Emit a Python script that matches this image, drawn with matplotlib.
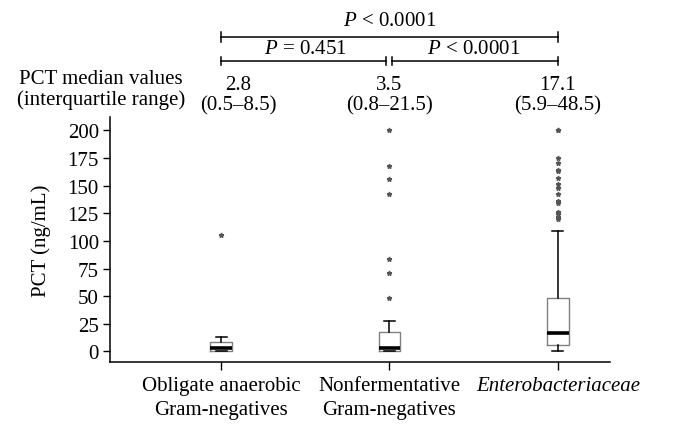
import matplotlib
matplotlib.use("Agg")
import matplotlib.pyplot as plt
from matplotlib.transforms import blended_transform_factory

# ---------------- data ----------------
categories = ["Obligate anaerobic\nGram-negatives", "Nonfermentative\nGram-negatives", "Enterobacteriaceae"]
medians = [2.8, 3.5, 17.1]
q1 = [0.5, 0.8, 5.9]
q3 = [8.5, 18.0, 48.5]
whis_lo = [0.0, 0.0, 0.0]
whis_hi = [13.0, 28.0, 109.0]
fliers = [
    [105],
    [200, 168, 156, 142, 84, 71, 48],
    [200, 200, 175, 170, 164, 163, 157, 151, 148, 142, 136, 134, 126, 124, 122, 120],
]
median_labels = ["2.8", "3.5", "17.1"]
iqr_labels = ["(0.5\u20138.5)", "(0.8\u201321.5)", "(5.9\u201348.5)"]
yticks = [0, 25, 50, 75, 100, 125, 150, 175, 200]
p_overall = "$P$ < 0.0001"
p_12 = "$P$ = 0.451"
p_23 = "$P$ < 0.0001"

# ---------------- style ----------------
plt.rcParams["font.family"] = ["Liberation Serif", "DejaVu Serif"]
plt.rcParams["mathtext.fontset"] = "custom"
plt.rcParams["mathtext.rm"] = "Liberation Serif"
plt.rcParams["mathtext.it"] = "Liberation Serif:italic"
FS = 15

W, H = 684, 439
fig = plt.figure(figsize=(W / 100, H / 100), dpi=100)
ax = fig.add_axes([110 / W, (H - 363) / H, 500 / W, 245 / H])

stats = []
for i in range(3):
    stats.append(dict(med=medians[i], q1=q1[i], q3=q3[i], whislo=whis_lo[i],
                      whishi=whis_hi[i], fliers=fliers[i]))
pos = [1, 2, 3]
ax.bxp(stats, positions=pos, widths=0.13, capwidths=0.065, showfliers=True,
       boxprops=dict(color="#808080", linewidth=1.0),
       medianprops=dict(color="black", linewidth=2.6),
       whiskerprops=dict(color="black", linewidth=1.1),
       capprops=dict(color="black", linewidth=1.1),
       flierprops=dict(marker="*", markersize=3.5, markerfacecolor="#555555",
                       markeredgecolor="#555555", linestyle="none"))

ax.set_xlim(0.34, 3.31)
ax.set_ylim(-9.5, 212)
ax.set_yticks(yticks)
ax.set_yticklabels([str(v) for v in yticks], fontsize=FS)
ax.set_xticks(pos)
ax.set_xticklabels(categories, fontsize=FS, linespacing=1.35)
ax.get_xticklabels()[2].set_style("italic")
for s in ["top", "right"]:
    ax.spines[s].set_visible(False)
for s in ["left", "bottom"]:
    ax.spines[s].set_linewidth(1.1)
ax.tick_params(axis="y", direction="out", length=5, width=1.0, pad=3)
ax.tick_params(axis="x", direction="out", length=6, width=1.0, pad=4)
ax.set_ylabel("PCT (ng/mL)", fontsize=FS, labelpad=12)

# ---------------- annotations ----------------
def fy(py):
    return 1 - py / H

tr = blended_transform_factory(ax.transData, fig.transFigure)
lk = dict(color="black", linewidth=1.1, clip_on=False, transform=tr)

# top bracket
yb = fy(38)
ax.plot([pos[0], pos[2]], [yb, yb], **lk)
for xp in (pos[0], pos[2]):
    ax.plot([xp, xp], [fy(33), fy(43)], **lk)
ax.text((pos[0] + pos[2]) / 2, fy(22), p_overall, transform=tr, ha="center", va="center", fontsize=FS)

# lower brackets
yl = fy(62)
gap = 0.018
ax.plot([pos[0], pos[1] - gap], [yl, yl], **lk)
ax.plot([pos[1] + gap, pos[2]], [yl, yl], **lk)
for xp in (pos[0], pos[1] - gap, pos[1] + gap, pos[2]):
    ax.plot([xp, xp], [fy(58), fy(66)], **lk)
ax.text((pos[0] + pos[1]) / 2, fy(50), p_12, transform=tr, ha="center", va="center", fontsize=FS)
ax.text((pos[1] + pos[2]) / 2, fy(50), p_23, transform=tr, ha="center", va="center", fontsize=FS)

# median / IQR labels
for i in range(3):
    xo = pos[i] + (0.1 if i == 0 else 0.0)
    ax.text(xo, fy(86), median_labels[i], transform=tr, ha="center", va="center", fontsize=FS)
    ax.text(xo, fy(106), iqr_labels[i], transform=tr, ha="center", va="center", fontsize=FS)
fig.text(101 / W, fy(80), "PCT median values", ha="center", va="center", fontsize=FS)
fig.text(101 / W, fy(100), "(interquartile range)", ha="center", va="center", fontsize=FS)

fig.savefig("out.png", dpi=100)
